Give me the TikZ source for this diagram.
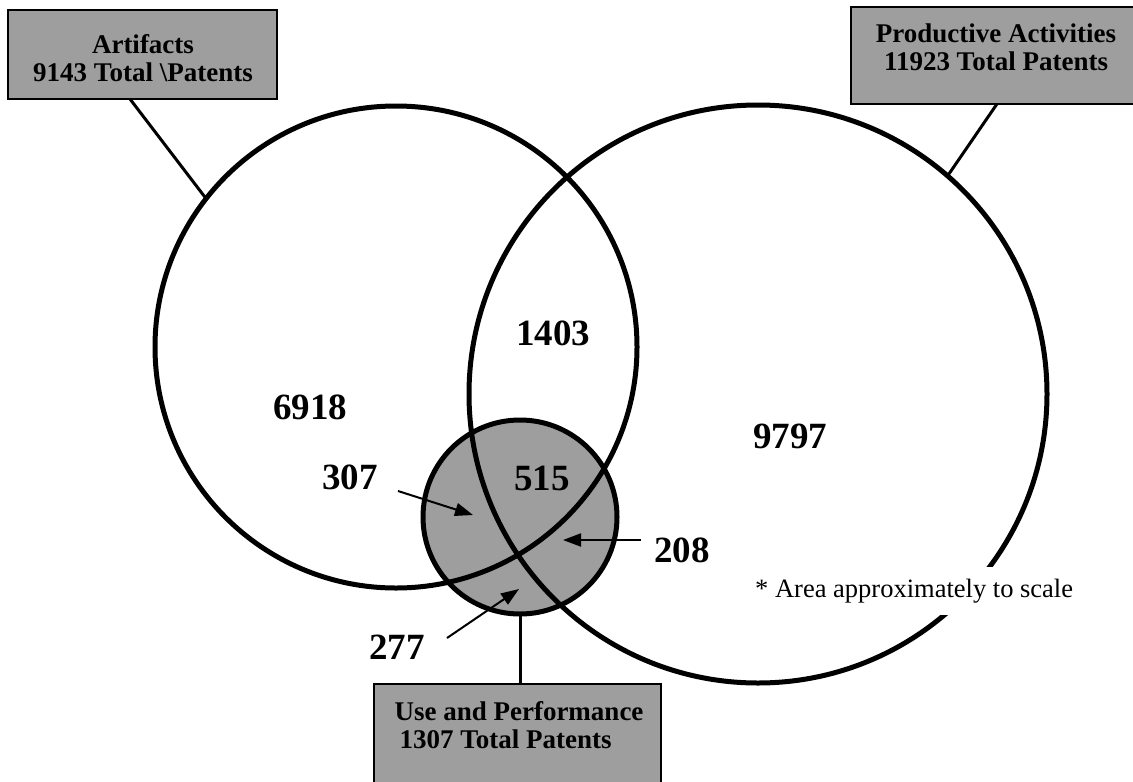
\documentclass[tikz,border=0pt]{standalone}
\usepackage{fontspec}
\setmainfont{Liberation Serif}
\usetikzlibrary{arrows.meta,calc}
\definecolor{halftone}{gray}{0.62}
\begin{document}
\begin{tikzpicture}[x=1pt,y=-1pt,
  ring/.style={circle,draw,line width=5pt,outer sep=0pt,inner sep=0pt},
  lbox/.style={draw,line width=2.5pt,fill=halftone,inner sep=0pt,outer sep=0pt},
  ltext/.style={font=\bfseries\fontsize{27}{28}\selectfont,inner sep=0pt},
  num/.style={font=\bfseries\fontsize{37}{40}\selectfont,inner sep=0pt},
  leader/.style={line width=3pt},
  pointer/.style={line width=2pt,-{Triangle[length=18pt,width=13pt]}}]
\useasboundingbox (0,0) rectangle (1133,782);

% circles
\node[ring,fill=halftone,minimum size=194pt] (S) at (520,517) {};
\node[ring,minimum size=482pt] (L) at (396,347) {};
\node[ring,minimum size=578pt] (R) at (758,394) {};

% label boxes
\node[lbox,minimum width=269pt,minimum height=89pt] (abox) at (142.5,54.5) {};
\node[ltext,align=center] (atext) at (143,58) {Artifacts\\9143 Total \textbackslash Patents};

\node[lbox,minimum width=285pt,minimum height=97pt] (pbox) at (993.5,55.5) {};
\node[ltext,align=center] (ptext) at (996,47) {Productive Activities\\11923 Total Patents};

\node[lbox,minimum width=287pt,minimum height=106pt] (ubox) at (517.5,737) {};
\node[ltext,align=left] (utext) at (519,725) {Use and Performance\\\hspace*{5pt}1307 Total Patents};

% leaders
\draw[leader] ($(abox.south west)!0.4535!(abox.south east)$) -- (L.142.7);
\draw[leader] ($(pbox.south west)!0.512!(pbox.south east)$) -- (R.49.3);
\draw[leader] (S.south) -- (S.south |- ubox.north);

% region counts
\node[num] (n6918) at (310,407) {6918};
\node[num] (n1403) at (553,333) {1403};
\node[num] (n515) at (542,478) {515};
\node[num] (n307) at (350,477) {307};
\node[num] (n208) at (682,550) {208};
\node[num] (n277) at (397,647) {277};
\node[num] (n9797) at (790,436) {9797};

% pointers
\coordinate (t307) at (398,491);
\coordinate (h307) at (473,515);
\coordinate (t208) at (641,540);
\coordinate (h208) at (563,540);
\coordinate (t277) at (447,638);
\coordinate (h277) at (519,589);
\draw[pointer] (t307) -- (h307);
\draw[pointer] (t208) -- (h208);
\draw[pointer] (t277) -- (h277);

% note
\node[font=\fontsize{26.5}{28}\selectfont,fill=white,inner xsep=2pt,inner ysep=12pt,anchor=base west] (note) at (753,597) {* Area approximately to scale};
\end{tikzpicture}
\end{document}
